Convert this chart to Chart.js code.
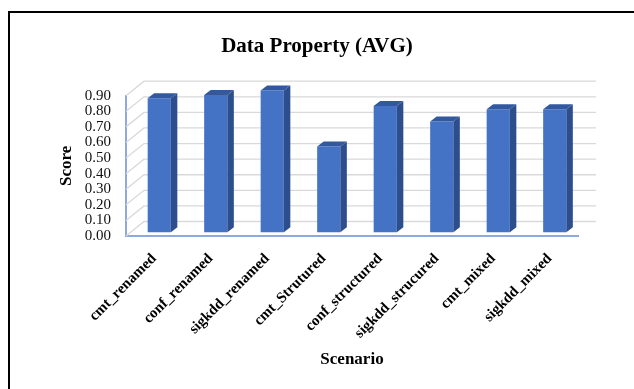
<!DOCTYPE html>
<html><head><meta charset="utf-8">
<style>
html,body{margin:0;padding:0;background:#fff;}
#wrap{position:relative;width:634px;height:389px;overflow:hidden;background:#fff;}
#frame{position:absolute;left:8px;top:11px;width:660px;height:420px;border:2px solid #000;box-sizing:border-box;pointer-events:none;}
canvas{position:absolute;left:0;top:0;}
</style>
<script src="https://cdn.jsdelivr.net/npm/chart.js@4/dist/chart.umd.min.js"></script>
</head><body>
<div id="wrap"><canvas id="c" width="634" height="389"></canvas><div id="frame"></div></div>
<script>
const categories = ["cmt_renamed","conf_renamed","sigkdd_renamed","cmt_Strutured","conf_structured","sigkdd_strucured","cmt_mixed","sigkdd_mixed"];
const scores = [0.86, 0.88, 0.91, 0.55, 0.81, 0.71, 0.79, 0.79];
const tickValues = [0.00,0.10,0.20,0.30,0.40,0.50,0.60,0.70,0.80,0.90];

const WX = 18, WY = -14.5;   // back wall offset
const BX = 5, BY = -3.7;     // bar set-back
const DX = 6.5, DY = -5;     // bar depth
const FRONT = '#4472C4', SIDE = '#2C4E8C', TOP = '#3258A0';
const GRID = '#D9D9D9', AXIS = '#8EA9DB';
const SERIF = "'Liberation Serif','Times New Roman',serif";

const threeD = {
  id: 'threeD',
  beforeDatasetsDraw(chart) {
    const {ctx, chartArea: a, scales: {y}} = chart;
    ctx.save();
    ctx.strokeStyle = GRID; ctx.lineWidth = 1.3;
    tickValues.forEach(v => {
      const py = y.getPixelForValue(v);
      ctx.beginPath();
      ctx.moveTo(a.left, py);
      ctx.lineTo(a.left + WX, py + WY);
      ctx.lineTo(a.right + WX, py + WY);
      ctx.stroke();
    });
    ctx.restore();
    ctx.save();
    ctx.translate(BX, BY);
  },
  afterDatasetsDraw(chart) {
    const {ctx} = chart;
    const meta = chart.getDatasetMeta(0);
    meta.data.forEach(bar => {
      const {x, y, base, width} = bar.getProps(['x','y','base','width'], true);
      const l = x - width/2, r = x + width/2;
      ctx.fillStyle = SIDE;
      ctx.beginPath();
      ctx.moveTo(r, y); ctx.lineTo(r+DX, y+DY); ctx.lineTo(r+DX, base+DY); ctx.lineTo(r, base);
      ctx.closePath(); ctx.fill();
      ctx.fillStyle = TOP;
      ctx.beginPath();
      ctx.moveTo(l, y); ctx.lineTo(l+DX, y+DY); ctx.lineTo(r+DX, y+DY); ctx.lineTo(r, y);
      ctx.closePath(); ctx.fill();
    });
    ctx.restore();
  }
};

new Chart(document.getElementById('c'), {
  type: 'bar',
  data: {
    labels: categories,
    datasets: [{
      data: scores,
      backgroundColor: FRONT,
      borderWidth: 0,
      categoryPercentage: 1,
      barPercentage: 0.41,
      clip: false,
      yAxisID: 'y'
    }]
  },
  options: {
    responsive: false,
    animation: false,
    devicePixelRatio: 1,
    layout: { padding: { left: 0, right: 0, top: 0, bottom: 0 } },
    plugins: {
      legend: { display: false },
      tooltip: { enabled: false },
      title: {
        display: true,
        text: 'Data Property (AVG)',
        color: '#000',
        font: { family: SERIF, size: 21, weight: 'bold' },
        padding: { top: 34, bottom: 36.5 }
      }
    },
    scales: {
      x: {
        grid: { display: false, drawTicks: false },
        border: { display: true, color: AXIS, width: 2 },
        ticks: {
          color: '#000',
          font: { family: SERIF, size: 15, weight: 'bold' },
          maxRotation: 45, minRotation: 45,
          autoSkip: false,
          padding: 14
        },
        title: {
          display: true, text: 'Scenario', color: '#000',
          font: { family: SERIF, size: 17, weight: 'bold' },
          padding: { top: 0, bottom: 19 }
        },
        afterFit(s) { s.height = 153; }
      },
      y: {
        min: 0, max: 0.9,
        afterBuildTicks(s) { s.ticks = tickValues.map(v => ({ value: v })); },
        grid: { display: false, drawTicks: false },
        border: { display: true, color: AXIS, width: 2 },
        ticks: {
          color: '#111',
          font: { family: SERIF, size: 15 },
          padding: 15,
          autoSkip: false,
          callback: v => Number(v).toFixed(2)
        },
        title: {
          display: true, text: 'Score', color: '#000',
          font: { family: SERIF, size: 17, weight: 'bold' },
          padding: { top: 56.8, bottom: 0 }
        },
        afterFit(s) { s.width = 126; }
      },
      yR: {
        position: 'right',
        min: 0, max: 0.9,
        grid: { display: false, drawTicks: false },
        border: { display: false },
        ticks: { display: false },
        afterFit(s) { s.width = 56; }
      }
    }
  },
  plugins: [threeD]
});
</script>
</body></html>
